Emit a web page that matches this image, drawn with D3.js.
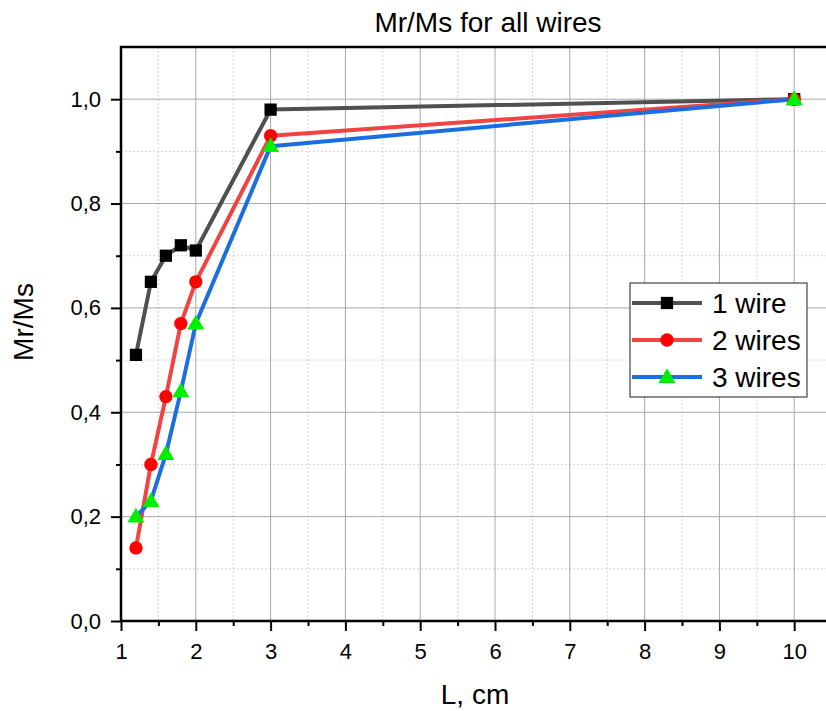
<!DOCTYPE html>
<html>
<head>
<meta charset="utf-8">
<script src="https://cdn.jsdelivr.net/npm/d3@7"></script>
<style>
  html, body { margin: 0; padding: 0; background: #fff; }
  svg { display: block; font-family: Arial, "Liberation Sans", sans-serif; }
</style>
</head>
<body>
<svg id="chart" width="826" height="711"></svg>
<script>
// Sample lengths, cm
const lengths = [1.2, 1.4, 1.6, 1.8, 2, 3, 10];
// Remanence ratio Mr/Ms for each wire count
const oneWire   = [0.51, 0.65, 0.70, 0.72, 0.71, 0.98, 1.00];
const twoWires  = [0.14, 0.30, 0.43, 0.57, 0.65, 0.93, 1.00];
const threeWires = [0.20, 0.23, 0.32, 0.44, 0.57, 0.91, 1.00];

const seriesNames = ["1 wire", "2 wires", "3 wires"];
const xTicks = [1, 2, 3, 4, 5, 6, 7, 8, 9, 10];
const yTicks = [0, 0.2, 0.4, 0.6, 0.8, 1.0];

const series = [
  { name: seriesNames[0], values: oneWire,   line: "#505050", fill: "#000000", symbol: d3.symbolSquare,   size: 150 },
  { name: seriesNames[1], values: twoWires,  line: "#f24343", fill: "#ff0000", symbol: d3.symbolCircle,   size: 140 },
  { name: seriesNames[2], values: threeWires, line: "#1a6ee0", fill: "#00ee00", symbol: d3.symbolTriangle, size: 125 }
];

const svg = d3.select("#chart");
const plotLeft = 121, plotTop = 47, plotBottom = 621, plotRight = 826;
const unit = 74.8;
const x = d3.scaleLinear().domain([1, 10.5]).range([plotLeft, plotLeft + 9.5 * unit]);
const y = d3.scaleLinear().domain([0, 1.1]).range([plotBottom, plotTop]);

const fmt = v => d3.format(".1f")(v).replace(".", ",");

// Minor grid (dotted)
const g = svg.append("g");
d3.range(1.5, 10.5, 1).forEach(v => {
  g.append("line").attr("x1", x(v)).attr("x2", x(v)).attr("y1", plotTop).attr("y2", plotBottom)
    .attr("stroke", "#d4d4d4").attr("stroke-width", 1).attr("stroke-dasharray", "2,2");
});
d3.range(0.1, 1.1, 0.2).forEach(v => {
  g.append("line").attr("x1", plotLeft).attr("x2", plotRight).attr("y1", y(v)).attr("y2", y(v))
    .attr("stroke", "#d4d4d4").attr("stroke-width", 1).attr("stroke-dasharray", "2,2");
});
// Major grid (solid)
xTicks.slice(1).forEach(v => {
  g.append("line").attr("x1", x(v)).attr("x2", x(v)).attr("y1", plotTop).attr("y2", plotBottom)
    .attr("stroke", "#a8a8a8").attr("stroke-width", 1);
});
yTicks.slice(1).forEach(v => {
  g.append("line").attr("x1", plotLeft).attr("x2", plotRight).attr("y1", y(v)).attr("y2", y(v))
    .attr("stroke", "#a8a8a8").attr("stroke-width", 1);
});

// Axes
const xAxis = d3.axisBottom(x).tickValues(xTicks).tickSize(10).tickPadding(12).tickFormat(d3.format("d"));
const xMinor = d3.axisBottom(x).tickValues(d3.range(1.5, 10.5, 1)).tickSize(5).tickFormat("");
const yAxis = d3.axisLeft(y).tickValues(yTicks).tickSize(10).tickPadding(10).tickFormat(fmt);
const yMinor = d3.axisLeft(y).tickValues(d3.range(0.1, 1.1, 0.2)).tickSize(5).tickFormat("");

function styleAxis(sel) {
  sel.select(".domain").remove();
  sel.selectAll(".tick line").attr("stroke", "#000").attr("stroke-width", 2);
  sel.selectAll(".tick text").attr("fill", "#000").style("font-size", "22px");
}
svg.append("g").attr("transform", `translate(0,${plotBottom})`).call(xAxis).call(styleAxis);
svg.append("g").attr("transform", `translate(0,${plotBottom})`).call(xMinor).call(styleAxis);
svg.append("g").attr("transform", `translate(${plotLeft},0)`).call(yAxis).call(styleAxis);
svg.append("g").attr("transform", `translate(${plotLeft},0)`).call(yMinor).call(styleAxis);

// Frame
svg.append("line").attr("x1", plotLeft).attr("x2", plotLeft).attr("y1", plotTop - 1).attr("y2", plotBottom + 1)
  .attr("stroke", "#000").attr("stroke-width", 2.5);
svg.append("line").attr("x1", plotLeft - 1).attr("x2", plotRight).attr("y1", plotBottom).attr("y2", plotBottom)
  .attr("stroke", "#000").attr("stroke-width", 2.5);
svg.append("line").attr("x1", plotLeft - 1).attr("x2", plotRight).attr("y1", plotTop).attr("y2", plotTop)
  .attr("stroke", "#000").attr("stroke-width", 2.5);

// Series lines and markers
const lineGen = d3.line().x(d => x(d[0])).y(d => y(d[1]));
series.forEach(s => {
  const pts = lengths.map((l, i) => [l, s.values[i]]);
  svg.append("path").datum(pts).attr("d", lineGen)
    .attr("fill", "none").attr("stroke", s.line).attr("stroke-width", 4).attr("stroke-linejoin", "round");
});
series.forEach(s => {
  const pts = lengths.map((l, i) => [l, s.values[i]]);
  svg.append("g").selectAll("path").data(pts).join("path")
    .attr("transform", d => `translate(${x(d[0])},${y(d[1]) + (s.symbol === d3.symbolTriangle ? 1 : 0)})`)
    .attr("d", d3.symbol().type(s.symbol).size(s.size))
    .attr("fill", s.fill);
});

// Legend
const lg = svg.append("g").attr("transform", "translate(630,283)");
lg.append("rect").attr("width", 177).attr("height", 114).attr("fill", "#fff")
  .attr("stroke", "#444").attr("stroke-width", 1.2);
series.forEach((s, i) => {
  const yy = 20 + i * 37;
  lg.append("line").attr("x1", 2).attr("x2", 72).attr("y1", yy).attr("y2", yy)
    .attr("stroke", s.line).attr("stroke-width", 4);
  lg.append("path").attr("transform", `translate(37,${yy + (s.symbol === d3.symbolTriangle ? 1 : 0)})`)
    .attr("d", d3.symbol().type(s.symbol).size(s.size)).attr("fill", s.fill);
  lg.append("text").attr("x", 82).attr("y", yy + 10).text(s.name)
    .style("font-size", "28px").attr("fill", "#000");
});

// Titles
svg.append("text").attr("x", 488).attr("y", 32).attr("text-anchor", "middle")
  .style("font-size", "28px").text("Mr/Ms for all wires");
svg.append("text").attr("x", 475).attr("y", 704).attr("text-anchor", "middle")
  .style("font-size", "28px").text("L, cm");
svg.append("text").attr("transform", "translate(33,322) rotate(-90)").attr("text-anchor", "middle")
  .style("font-size", "28px").text("Mr/Ms");
</script>
</body>
</html>
